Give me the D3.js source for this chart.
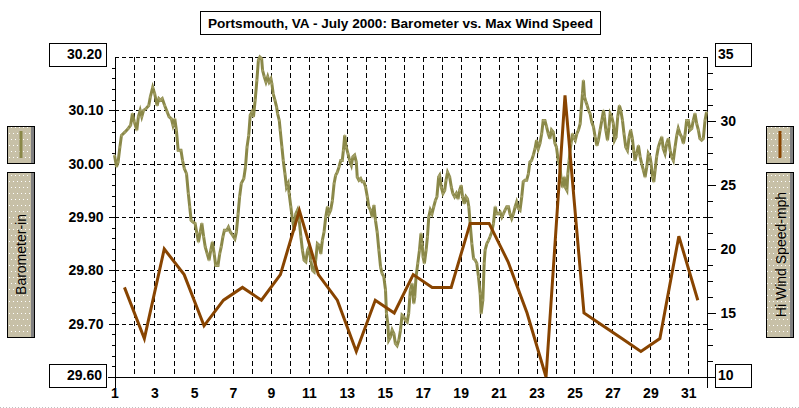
<!DOCTYPE html>
<html><head><meta charset="utf-8">
<script src="https://cdn.jsdelivr.net/npm/d3@7"></script>
<style>
html,body{margin:0;padding:0;background:#fff;}
svg{display:block;}
text{font-family:"Liberation Sans",Arial,sans-serif;}
</style></head><body>
<svg id="c" width="799" height="408"></svg>
<script>
// ---------------- data ----------------
const title = "Portsmouth, VA - July 2000: Barometer vs. Max Wind Speed";
const baroLabel = "Barometer-in";
const windLabel = "Hi Wind Speed-mph";

const baroDay = [
1.00,1.10,1.18,1.27,1.35,1.52,1.69,1.81,1.90,2.00,2.12,2.20,2.29,2.37,2.46,2.58,2.72,2.80,2.92,3.02,
3.14,3.23,3.31,3.40,3.52,3.65,3.74,3.86,3.94,4.03,4.11,4.20,4.34,4.42,4.51,4.62,4.71,4.78,4.85,4.93,
5.05,5.14,5.22,5.31,5.39,5.48,5.56,5.66,5.75,5.84,5.92,6.01,6.09,6.21,6.30,6.38,6.47,6.55,6.67,6.76,
6.86,6.98,7.10,7.18,7.27,7.35,7.44,7.57,7.66,7.74,7.83,7.91,8.00,8.08,8.17,8.26,8.34,8.42,8.51,8.56,
8.65,8.74,8.83,8.91,9.00,9.05,9.12,9.21,9.30,9.35,9.44,9.49,9.58,9.65,9.74,9.82,9.91,9.96,10.05,10.14,
10.23,10.31,10.40,10.49,10.58,10.66,10.75,10.84,10.93,11.01,11.10,11.19,11.28,11.36,11.45,11.54,11.63,11.71,11.80,11.89,
11.98,12.06,12.15,12.24,12.33,12.41,12.50,12.59,12.68,12.76,12.82,12.89,12.97,13.06,13.15,13.24,13.32,13.41,13.50,13.55,
13.64,13.73,13.81,13.90,13.99,14.08,14.16,14.25,14.34,14.43,14.51,14.60,14.69,14.78,14.86,14.95,15.04,15.09,15.16,15.21,
15.30,15.39,15.48,15.56,15.65,15.74,15.83,15.91,16.00,16.09,16.18,16.26,16.32,16.35,16.44,16.53,16.58,16.65,16.74,16.83,
16.91,16.97,17.02,17.09,17.18,17.25,17.32,17.40,17.49,17.58,17.67,17.75,17.84,17.89,17.98,18.07,18.16,18.23,18.31,18.42,
18.51,18.59,18.68,18.77,18.86,18.94,19.03,19.10,19.19,19.28,19.36,19.43,19.50,19.59,19.68,19.77,19.85,19.94,20.03,20.08,
20.17,20.24,20.29,20.38,20.47,20.55,20.64,20.73,20.82,20.90,20.99,21.08,21.17,21.25,21.34,21.43,21.52,21.60,21.69,21.78,
21.87,21.95,22.04,22.13,22.22,22.30,22.39,22.48,22.57,22.65,22.74,22.83,22.92,23.00,23.09,23.18,23.27,23.35,23.44,23.53,
23.62,23.70,23.79,23.88,23.97,24.05,24.14,24.23,24.30,24.37,24.46,24.51,24.60,24.65,24.72,24.77,24.82,24.89,24.95,25.04,
25.12,25.21,25.30,25.35,25.42,25.47,25.53,25.60,25.67,25.74,25.82,25.91,26.00,26.09,26.18,26.26,26.35,26.44,26.53,26.58,
26.65,26.74,26.82,26.88,26.96,27.05,27.11,27.19,27.28,27.37,27.44,27.53,27.61,27.70,27.79,27.88,27.96,28.05,28.12,28.19,
28.28,28.37,28.46,28.54,28.63,28.72,28.81,28.89,28.98,29.04,29.11,29.18,29.25,29.33,29.42,29.51,29.60,29.68,29.77,29.86,
29.95,30.04,30.12,30.21,30.30,30.39,30.47,30.56,30.65,30.74,30.82,30.91,31.00,31.09,31.18,31.26,31.35,31.44,31.53,31.61,
31.70,31.79,31.88,31.96
];
const baroValue = [
30.016,29.994,30.003,30.031,30.053,30.059,30.066,30.072,30.094,30.078,30.063,30.088,30.100,30.088,30.100,30.103,30.109,30.125,30.143,30.131,
30.109,30.122,30.119,30.122,30.109,30.097,30.088,30.084,30.072,30.084,30.063,30.025,30.025,30.006,29.991,29.981,29.944,29.919,29.894,29.891,
29.888,29.869,29.853,29.872,29.888,29.863,29.844,29.831,29.819,29.838,29.853,29.831,29.809,29.809,29.831,29.844,29.863,29.875,29.875,29.881,
29.872,29.866,29.859,29.872,29.906,29.938,29.963,29.972,29.994,30.031,30.053,30.091,30.097,30.088,30.119,30.156,30.194,30.200,30.197,30.175,
30.163,30.153,30.163,30.153,30.159,30.150,30.131,30.119,30.106,30.094,30.081,30.063,30.031,30.006,29.981,29.956,29.963,29.944,29.919,29.894,
29.875,29.906,29.913,29.894,29.863,29.838,29.819,29.816,29.838,29.844,29.819,29.800,29.797,29.819,29.850,29.847,29.831,29.856,29.872,29.900,
29.919,29.906,29.913,29.931,29.963,29.978,29.984,29.994,30.006,30.006,30.025,30.053,30.031,30.019,30.006,29.997,30.013,30.016,30.003,29.975,
29.969,29.972,29.966,29.966,29.956,29.938,29.919,29.913,29.900,29.922,29.894,29.872,29.838,29.806,29.794,29.788,29.763,29.719,29.700,29.669,
29.675,29.688,29.681,29.663,29.659,29.669,29.688,29.716,29.713,29.706,29.703,29.719,29.750,29.763,29.775,29.738,29.750,29.788,29.813,29.838,
29.869,29.850,29.825,29.813,29.838,29.863,29.900,29.913,29.906,29.919,29.931,29.938,29.975,29.978,29.956,29.944,29.950,29.969,29.984,29.975,
29.956,29.944,29.938,29.944,29.934,29.950,29.959,29.938,29.925,29.938,29.934,29.919,29.888,29.850,29.822,29.819,29.813,29.788,29.756,29.719,
29.744,29.813,29.838,29.850,29.856,29.863,29.872,29.888,29.919,29.906,29.906,29.909,29.900,29.906,29.913,29.919,29.919,29.906,29.897,29.906,
29.919,29.928,29.916,29.913,29.938,29.966,29.969,29.969,29.981,30.003,30.006,30.016,30.028,30.044,30.028,30.038,30.056,30.081,30.081,30.069,
30.056,30.047,30.063,30.059,30.038,30.031,30.006,29.997,29.969,29.956,29.975,29.956,29.950,29.981,30.006,30.025,30.038,30.056,30.050,30.044,
30.056,30.063,30.075,30.100,30.131,30.156,30.125,30.116,30.109,30.100,30.094,30.078,30.069,30.050,30.034,30.044,30.063,30.081,30.100,30.088,
30.063,30.044,30.069,30.094,30.088,30.075,30.044,30.050,30.088,30.109,30.100,30.081,30.056,30.031,30.025,30.050,30.063,30.047,30.025,30.006,
30.019,30.034,30.013,30.000,29.988,29.975,29.994,30.019,30.013,30.000,29.975,29.966,29.988,30.013,30.031,30.041,30.050,30.028,30.019,30.038,
30.047,30.025,30.013,30.006,30.031,30.053,30.066,30.056,30.050,30.038,30.053,30.081,30.081,30.063,30.066,30.081,30.094,30.075,30.063,30.047,
30.044,30.047,30.081,30.097
];

const windDay = [1.5,2.5,3.5,4.5,5.5,6.5,7.5,8.5,9.5,10.5,11.5,12.5,13.5,14.5,15.5,16.5,17.5,18.5,19.5,20.5,21.5,22.5,23.5,24.5,25.5,26.5,27.5,28.5,29.5,30.5,31.5];
const windSpeed = [17,13,20,18,14,16,17,16,18,23,18,16,12,16,15,18,17,17,22,22,19,15,10,32,15,14,13,12,13,21,16];

const dayTicks = [1,3,5,7,9,11,13,15,17,19,21,23,25,27,29,31];
const dayGrid = d3.range(2, 32);
const baroTicks = [29.70,29.80,29.90,30.00,30.10];
const baroEnds = [30.20,29.60];
const baroGrid = [29.70,29.80,29.90,30.00,30.10,30.20];
const windTicks = [15,20,25,30];
const windEnds = [35,10];

// ---------------- drawing ----------------
const OLIVE = "#8a8848", OLIVE_LT = "#b4b07c", BROWN = "#884400";
const BEIGE = "#c7c0a7";
const svg = d3.select("#c");
svg.append("rect").attr("width",799).attr("height",408).attr("fill","#fff");

const x = d3.scaleLinear().domain([1,6,32]).range([114.5,214,707.3]);
const yL = d3.scaleLinear().domain([29.6,30.2]).range([377,57]);
const yR = d3.scaleLinear().domain([10,35]).range([377,57]);
const X0 = x(1), X1 = x(32), Y0 = yL(29.6), Y1 = yL(30.2);

// pattern for legend boxes
const defs = svg.append("defs");
const pat = defs.append("pattern").attr("id","dots").attr("patternUnits","userSpaceOnUse")
  .attr("width",8).attr("height",12);
pat.append("rect").attr("width",8).attr("height",12).attr("fill",BEIGE);
[[1,1],[5,1],[3,7],[7,7]].forEach(p=>pat.append("rect").attr("x",p[0]).attr("y",p[1]).attr("width",1).attr("height",1).attr("fill","#fff"));

// grid
const grid = svg.append("g").attr("stroke","#000").attr("stroke-width",1).attr("shape-rendering","crispEdges");
grid.selectAll("line.h").data(baroGrid).join("line").attr("class","h").attr("stroke-dasharray","4,3")
  .attr("x1",X0).attr("x2",X1).attr("y1",d=>Math.round(yL(d))+0.5).attr("y2",d=>Math.round(yL(d))+0.5);
grid.selectAll("line.v").data(dayGrid).join("line").attr("class","v").attr("stroke-dasharray","5,3")
  .attr("y1",Y1).attr("y2",Y0).attr("x1",d=>Math.round(x(d))+0.5).attr("x2",d=>Math.round(x(d))+0.5);

// axes lines
const ax = svg.append("g").attr("stroke","#000").attr("stroke-width",1).attr("shape-rendering","crispEdges");
ax.append("line").attr("x1",Math.round(X0)+0.5).attr("x2",Math.round(X0)+0.5).attr("y1",Y1).attr("y2",Y0+11);
ax.append("line").attr("x1",Math.round(X1)+0.5).attr("x2",Math.round(X1)+0.5).attr("y1",Y1).attr("y2",Y0+11);
ax.append("line").attr("x1",X0-7).attr("x2",X1+8).attr("y1",Math.round(Y0)+0.5).attr("y2",Math.round(Y0)+0.5);

function styleAxis(g){
  g.select(".domain").remove();
  g.selectAll("line").attr("shape-rendering","crispEdges");
  g.selectAll("text").attr("font-family",'"Liberation Sans",Arial,sans-serif').attr("font-size",14).attr("font-weight","bold").attr("fill","#000");
}
// left minor + major
svg.append("g").attr("transform",`translate(${Math.round(X0)+0.5},0)`)
  .call(d3.axisLeft(yL).tickValues(d3.range(29.62,30.2,0.02)).tickSize(4).tickFormat(""))
  .call(styleAxis);
svg.append("g").attr("transform",`translate(${Math.round(X0)+0.5},0)`)
  .call(d3.axisLeft(yL).tickValues(baroTicks).tickSize(7).tickPadding(5).tickFormat(d3.format(".2f")))
  .call(styleAxis);
// right minor + major
svg.append("g").attr("transform",`translate(${Math.round(X1)+0.5},0)`)
  .call(d3.axisRight(yR).tickValues(d3.range(11.25,35,1.25)).tickSize(5).tickFormat(""))
  .call(styleAxis);
svg.append("g").attr("transform",`translate(${Math.round(X1)+0.5},0)`)
  .call(d3.axisRight(yR).tickValues(windTicks).tickSize(8).tickPadding(5).tickFormat(d3.format("d")))
  .call(styleAxis);
// bottom
svg.append("g").attr("transform",`translate(0,${Math.round(Y0)+0.5})`)
  .call(d3.axisBottom(x).tickValues(dayTicks).tickSize(0).tickPadding(11).tickFormat(d3.format("d")))
  .call(styleAxis);

// end boxes
const endG = svg.append("g");
baroEnds.forEach((v,i)=>{
  const cy = yL(v);
  const top = i===0 ? cy-14 : cy-13;
  endG.append("rect").attr("x",49.5).attr("y",Math.round(top)+0.5).attr("width",57).attr("height",23)
    .attr("fill","#fff").attr("stroke","#000").attr("shape-rendering","crispEdges");
  endG.append("text").attr("x",102).attr("y",Math.round(top)+16).attr("text-anchor","end")
    .attr("font-size",14).attr("font-weight","bold").text(d3.format(".2f")(v));
});
windEnds.forEach((v,i)=>{
  const cy = yR(v);
  const top = i===0 ? cy-14 : cy-13;
  endG.append("rect").attr("x",715.5).attr("y",Math.round(top)+0.5).attr("width",36).attr("height",23)
    .attr("fill","#fff").attr("stroke","#000").attr("shape-rendering","crispEdges");
  endG.append("text").attr("x",718).attr("y",Math.round(top)+16).attr("text-anchor","start")
    .attr("font-size",14).attr("font-weight","bold").text(v);
});

// series
const baroData = baroDay.map((d,i)=>[d,baroValue[i]]);
const windData = windDay.map((d,i)=>[d,windSpeed[i]]);
svg.append("path").datum(baroData).attr("fill","none").attr("stroke",OLIVE).attr("stroke-width",3)
  .attr("stroke-linejoin","miter").attr("d",d3.line().x(d=>x(d[0])).y(d=>yL(d[1])));
svg.append("g").selectAll("path").data(baroData).join("path")
  .attr("d",d=>`M${x(d[0])-1.5},${yL(d[1])}h3M${x(d[0])},${yL(d[1])-1.5}v3`)
  .attr("stroke",OLIVE_LT).attr("stroke-width",1).attr("opacity",0.6);
svg.append("path").datum(windData).attr("fill","none").attr("stroke",BROWN).attr("stroke-width",3)
  .attr("stroke-linejoin","miter").attr("d",d3.line().x(d=>x(d[0])).y(d=>yR(d[1])));

// title
svg.append("rect").attr("x",200.5).attr("y",11.5).attr("width",400).attr("height",23)
  .attr("fill","#fff").attr("stroke","#000").attr("shape-rendering","crispEdges");
svg.append("text").attr("x",400.5).attr("y",28).attr("text-anchor","middle")
  .attr("font-size",13.6).attr("font-weight","bold").text(title);

// legends
function legend(x0, color, label, textX){
  const g = svg.append("g");
  [[126,37],[172,165]].forEach(([y,h])=>{
    g.append("rect").attr("x",x0+0.5).attr("y",y+0.5).attr("width",27).attr("height",h)
      .attr("fill","url(#dots)").attr("stroke","#000").attr("shape-rendering","crispEdges");
    g.append("rect").attr("x",x0+24).attr("y",y+1).attr("width",3).attr("height",h-1).attr("fill","#808080");
  });
  g.append("line").attr("x1",x0+14).attr("x2",x0+14).attr("y1",131).attr("y2",158)
    .attr("stroke",color).attr("stroke-width",3);
  g.append("text").attr("transform",`translate(${textX},254.5) rotate(-90)`)
    .attr("text-anchor","middle").attr("font-size",14).text(label);
}
legend(7, OLIVE, baroLabel, 26);
legend(766, BROWN, windLabel, 786);

// bottom dotted border
svg.append("line").attr("x1",0).attr("x2",799).attr("y1",407.5).attr("y2",407.5)
  .attr("stroke","#c0c0c0").attr("stroke-dasharray","1,2");
</script>
</body></html>
